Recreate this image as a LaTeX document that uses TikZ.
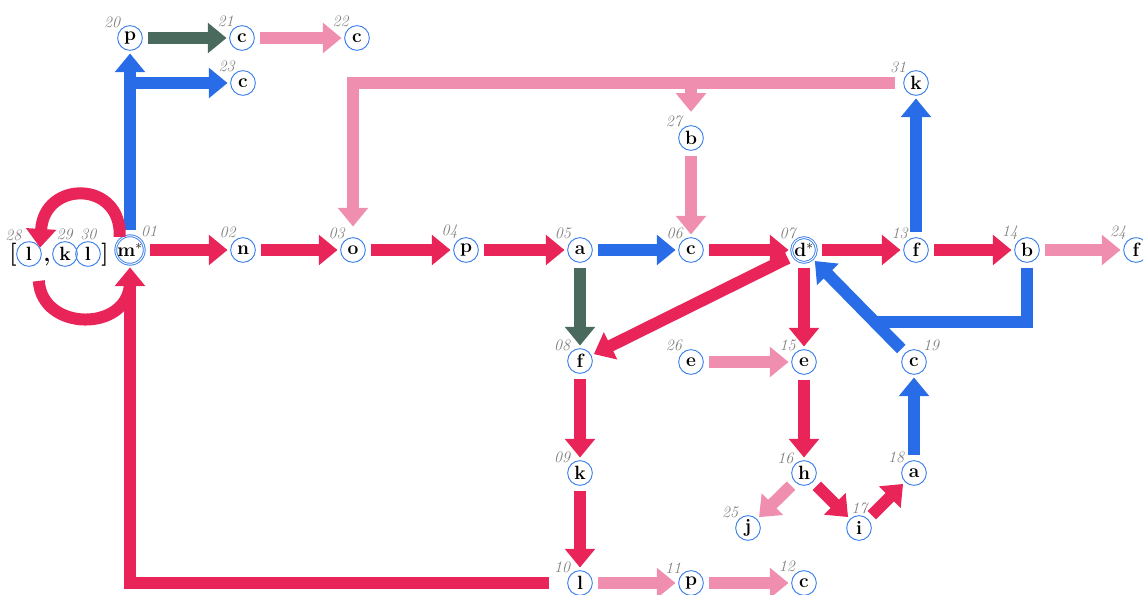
\documentclass[tikz,border=0pt]{standalone}
\usetikzlibrary{arrows.meta}
\definecolor{rojo}{RGB}{232,36,88}
\definecolor{rosa}{RGB}{240,142,176}
\definecolor{azul}{RGB}{40,108,232}
\definecolor{gris}{RGB}{74,106,94}
\definecolor{borde}{RGB}{60,128,236}
\begin{document}
\begin{tikzpicture}[x=0.75pt,y=-0.75pt,
    nodo/.style={circle,draw=borde,line width=0.7pt,minimum size=18.5pt,inner sep=0pt,font=\Large\bfseries},
    doble/.style={double=white,double distance=0.7pt},
    num/.style={font=\large\itshape,text=gray,inner sep=0.5pt},
    signo/.style={font=\LARGE\bfseries,inner sep=0pt},
    linea/.style={line width=9pt},
    flecha/.style={linea,shorten <=4pt,shorten >=2pt,-{Triangle[width=22pt,length=14pt]}},
    roja/.style={flecha,draw=rojo},
    rosa/.style={flecha,draw=rosa},
    azul/.style={flecha,draw=azul},
    gris/.style={flecha,draw=gris}]
    \useasboundingbox (0,0) rectangle (1143,595);

    % Fila principal
    \node[nodo,doble,label={[num,label distance=1pt]50:01}] (m01) at (130,250) {m$^*$};
    \node[nodo,label={[num]120:02}] (n02) at (243,250) {n};
    \node[nodo,label={[num]125:03}] (o03) at (353,250) {o};
    \node[nodo,label={[num]125:04}] (p04) at (466,250) {p};
    \node[nodo,label={[num]130:05}] (a05) at (580,250) {a};
    \node[nodo,label={[num]125:06}] (c06) at (691,250) {c};
    \node[nodo,doble,label={[num]125:07}] (d07) at (804,250) {d$^*$};
    \node[nodo,label={[num]125:13}] (f13) at (916,250) {f};
    \node[nodo,label={[num]130:14}] (b14) at (1027,250) {b};
    \node[nodo,label={[num]135:24}] (f24) at (1136,250) {f};

    % Arriba
    \node[nodo,label={[num]135:20}] (p20) at (130,38) {p};
    \node[nodo,label={[num]125:21}] (c21) at (242,38) {c};
    \node[nodo,label={[num]125:22}] (c22) at (357,38) {c};
    \node[nodo,label={[num]125:23}] (c23) at (243,83) {c};
    \node[nodo,label={[num]135:31}] (k31) at (916,83) {k};
    \node[nodo,label={[num]130:27}] (b27) at (691,138) {b};

    % Abajo
    \node[nodo,label={[num]135:08}] (f08) at (580,361) {f};
    \node[nodo,label={[num]130:26}] (e26) at (691,362) {e};
    \node[nodo,label={[num]125:15}] (e15) at (804,362) {e};
    \node[nodo,label={[num]50:19}] (c19) at (914,362) {c};
    \node[nodo,label={[num]135:09}] (k09) at (580,473) {k};
    \node[nodo,label={[num]140:16}] (h16) at (804,473) {h};
    \node[nodo,label={[num]135:18}] (a18) at (914,473) {a};
    \node[nodo,label={[num]135:25}] (j25) at (748,528) {j};
    \node[nodo,label={[num]88:17}] (i17) at (859,528) {i};
    \node[nodo,label={[num]135:10}] (l10) at (580,583) {l};
    \node[nodo,label={[num]135:11}] (p11) at (691,583) {p};
    \node[nodo,label={[num]130:12}] (c12) at (804,583) {c};

    % Lista
    \node[signo] (ca) at (13,255) {[};
    \node[nodo,label={[num,label distance=1pt]118:28}] (l28) at (29,254) {l};
    \node[signo] (coma) at (47,262) {,};
    \node[nodo,label={[num]92:29}] (k29) at (65,254) {k};
    \node[nodo,label={[num]88:30}] (l30) at (88,254) {l};
    \node[signo] (cc) at (105,255) {]};

    % Flechas de la fila
    \draw[roja] (m01) -- (n02);
    \draw[roja] (n02) -- (o03);
    \draw[roja] (o03) -- (p04);
    \draw[roja] (p04) -- (a05);
    \draw[azul] (a05) -- (c06);
    \draw[roja] (c06) -- (d07);
    \draw[roja] (d07) -- (f13);
    \draw[roja] (f13) -- (b14);
    \draw[rosa] (b14) -- (f24);

    % Arriba
    \draw[azul] (m01) -- (p20);
    \draw[azul,shorten <=0pt] (m01 |- c23) -- (c23);
    \draw[gris] (p20) -- (c21);
    \draw[rosa] (c21) -- (c22);
    \draw[azul] (f13) -- (k31);
    \draw[rosa,shorten <=6pt,shorten >=8pt] (k31) -| (o03);
    \draw[rosa,shorten <=0pt,shorten >=10pt] (b27 |- k31) -- (b27);
    \draw[rosa] (b27) -- (c06);

    % Abajo
    \draw[gris] (a05) -- (f08);
    \draw[roja] (d07) -- (f08);
    \draw[roja] (d07) -- (e15);
    \draw[rosa] (e26) -- (e15);
    \draw[roja] (e15) -- (h16);
    \draw[rosa] (h16) -- (j25);
    \draw[roja] (h16) -- (i17);
    \draw[roja] (i17) -- (a18);
    \draw[azul] (a18) -- (c19);
    \draw[azul] (c19) -- (d07);
    \coordinate (cruce) at (875,322);
    \draw[linea,draw=azul,shorten <=4pt] (b14) |- (cruce);
    \draw[roja] (k09) -- (l10);
    \draw[roja] (f08) -- (k09);
    \draw[rosa] (l10) -- (p11);
    \draw[rosa] (p11) -- (c12);
    \draw[roja,shorten <=14pt] (l10) -| (m01);

    % Bucles
    \draw[roja,shorten <=2pt,shorten >=0pt] (m01.north west) .. controls (122,180) and (44,180) .. (l28.30);
    \draw[linea,draw=rojo] ([yshift=-14pt]l28.-40) .. controls (42,332) and (128,332) .. ([yshift=-14pt]m01.south);
\end{tikzpicture}
\end{document}
